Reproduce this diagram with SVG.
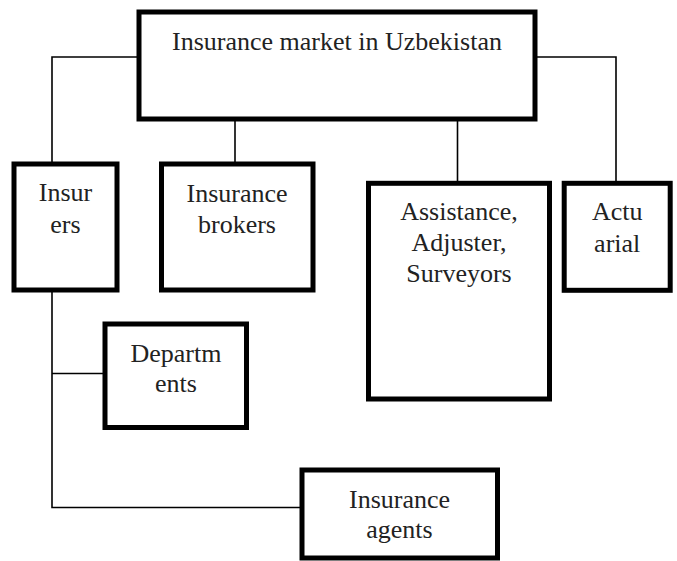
<svg xmlns="http://www.w3.org/2000/svg" width="677" height="561" viewBox="0 0 677 561">
<style>
.box{fill:#fff;stroke:#000;stroke-width:5}
.ln{fill:none;stroke:#000;stroke-width:1.6}
.t{font-family:'Liberation Serif',serif;font-size:26px;fill:#222;text-anchor:middle}
</style>
<rect width="677" height="561" fill="#fff"/>
<g id="connectors">
<polyline class="ln" points="139,57 52,57 52,164"/>
<polyline class="ln" points="535,57 616,57 616,183"/>
<line class="ln" x1="235" y1="119" x2="235" y2="164"/>
<line class="ln" x1="457.5" y1="119" x2="457.5" y2="183"/>
<polyline class="ln" points="52,290 52,507.5 302,507.5"/>
<line class="ln" x1="52" y1="373.5" x2="105" y2="373.5"/>
</g>
<g id="market">
<rect class="box" x="139" y="12" width="396" height="107"/>
<text class="t" x="337" y="49.5">Insurance market in Uzbekistan</text>
</g>
<g id="insurers">
<rect class="box" x="14" y="164" width="103" height="126"/>
<text class="t" x="65.5" y="201">Insur</text>
<text class="t" x="65.5" y="232.5">ers</text>
</g>
<g id="brokers">
<rect class="box" x="161.5" y="164" width="151.5" height="126"/>
<text class="t" x="237" y="201.5">Insurance</text>
<text class="t" x="237" y="232.5">brokers</text>
</g>
<g id="assistance">
<rect class="box" x="368.5" y="183.3" width="181" height="215.7"/>
<text class="t" x="459" y="220">Assistance,</text>
<text class="t" x="459" y="251">Adjuster,</text>
<text class="t" x="459" y="282">Surveyors</text>
</g>
<g id="actuarial">
<rect class="box" x="564.2" y="183.3" width="106" height="107"/>
<text class="t" x="617.2" y="220">Actu</text>
<text class="t" x="617.2" y="251.5">arial</text>
</g>
<g id="departments">
<rect class="box" x="105" y="324" width="141.5" height="103.5"/>
<text class="t" x="176" y="361.5">Departm</text>
<text class="t" x="176" y="391.5">ents</text>
</g>
<g id="agents">
<rect class="box" x="302" y="470" width="195.5" height="88"/>
<text class="t" x="399.5" y="507.5">Insurance</text>
<text class="t" x="399.5" y="538.3">agents</text>
</g>
</svg>
